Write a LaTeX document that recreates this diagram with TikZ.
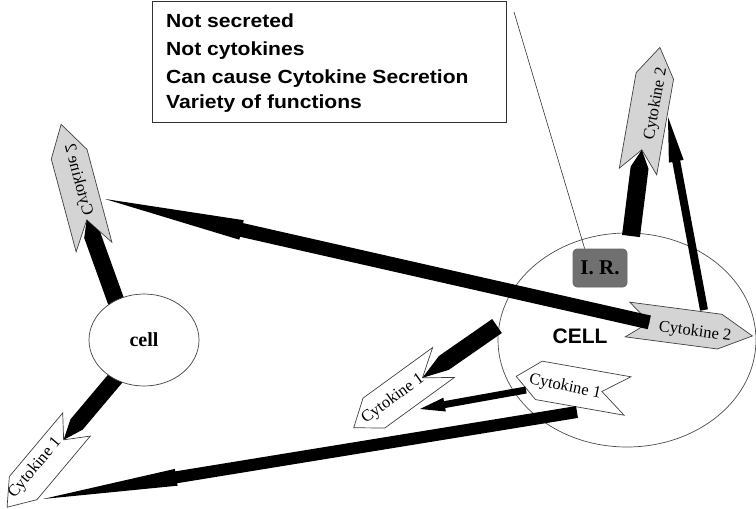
\documentclass[tikz,border=0pt]{standalone}
\usepackage{fontspec}
\setmainfont{Liberation Serif}
\newfontfamily\boxsans{Liberation Sans}
\usetikzlibrary{calc,shapes.geometric}
\tikzset{
  cytogray/.style={fill=black!17, draw=black!75, line width=0.7pt},
  cytowhite/.style={fill=white, draw=black!75, line width=0.7pt},
  cytolabel/.style={font=\fontsize{16.5}{16.5}\selectfont, inner sep=0pt},
  boxline/.style={font=\boxsans\bfseries\fontsize{19}{19}\selectfont, anchor=base west, inner sep=0pt, xscale=1.11},
  arrowfill/.style={fill=black},
  cellshape/.style={ellipse, draw=black!70, fill=white, line width=0.7pt, inner sep=0pt}
}
\newcommand{\cytoshape}[8]{%
  \begin{scope}[shift={#2}, rotate=#3]
    \draw[#8] (0,#5) -- ({#4-#6},#5) -- (#4,0) -- ({#4-#6},-#5) -- (0,-#5) -- (#7,0) -- cycle;
    \coordinate (#1-notch) at (#7,0);
  \end{scope}}
\newcommand{\blockarr}[5]{%
  \path ($(#2)!#5!(#1)$) coordinate (hb);
  \fill[arrowfill] ($(#1)!#3!90:(#2)$) -- ($(hb)!#3!90:(#2)$) -- ($(hb)!#4!90:(#2)$) -- (#2)
     -- ($(hb)!#4!-90:(#2)$) -- ($(hb)!#3!-90:(#2)$) -- ($(#1)!#3!-90:(#2)$) -- cycle;}
\begin{document}
\begin{tikzpicture}[x=1pt,y=-1pt]
\useasboundingbox (0,0) rectangle (756,509);

% note box
\node[draw=black!80, line width=1pt, minimum width=354, minimum height=121, inner sep=0, anchor=north west] (notes) at (152,1) {};
\node[boxline] (l1) at (166,27) {Not secreted};
\node[boxline] (l2) at (166,55) {Not cytokines};
\node[boxline] (l3) at (166,83) {Can cause Cytokine Secretion};
\node[boxline] (l4) at (166,108) {Variety of functions};

% big cell
\node[cellshape, minimum width=258, minimum height=214] (CELL) at (627,340) {};
\node[font=\boxsans\bfseries\fontsize{21}{21}\selectfont, inner sep=0] (CELLlabel) at (580,336) {CELL};
\node[draw=black!60, fill=black!56, rounded corners=4pt, minimum width=54, minimum height=38, inner sep=0,
      line width=0.7pt, font=\bfseries\fontsize{21}{21}\selectfont] (ir) at (600,268) {I. R.};
\coordinate (leadend) at (514,12);
\draw[black!80, line width=0.6pt] (leadend) -- ([xshift=12]ir.north west);

% cytokine chevrons
\cytoshape{c2l}{(94,247)}{105}{127}{18.5}{31}{28}{cytogray}
\cytoshape{c2r}{(638,171.5)}{80}{126}{19}{29}{22}{cytogray}
\cytoshape{c2m}{(627.5,319.5)}{-7.5}{126}{17.5}{33}{22}{cytogray}
\cytoshape{c1c}{(627.5,396)}{170}{113}{19.5}{23}{26}{cytowhite}
\cytoshape{c1m}{(443.5,362.5)}{216}{111}{18.5}{25}{26}{cytowhite}
\cytoshape{c1bl}{(76.5,424.5)}{230}{108}{18}{25}{20}{cytowhite}

\node[cytolabel, rotate=105, yscale=-1] (c2l-label) at (78,180) {Cytokine 2};
\node[cytolabel, rotate=80] (c2r-label) at (656,104) {Cytokine 2};
\node[cytolabel, rotate=-7.5] (c2m-label) at (695,332) {Cytokine 2};
\node[cytolabel, rotate=-12] (c1c-label) at (565,387) {Cytokine 1};
\node[cytolabel, rotate=36] (c1m-label) at (393,399) {Cytokine 1};
\node[cytolabel, rotate=50] (c1bl-label) at (35,468) {Cytokine 1};

% arrows
\coordinate (cellTopBase) at (121,315);
\coordinate (cellBotBase) at (125,367);
\coordinate (CELLwest) at (497,326);
\coordinate (CELLtop) at (631,236);
\coordinate (c2m-top) at (704,310);
\coordinate (c2r-side) at (668,117);
\coordinate (c2l-side) at (105,199);
\coordinate (c1c-bottom) at (577,412);
\coordinate (c1bl-side) at (43,499);
\coordinate (c1c-nose) at (526,390);
\coordinate (c1m-side) at (420,409);

\blockarr{cellTopBase}{c2l-notch}{8.5pt}{8.5pt}{16pt}
\blockarr{cellBotBase}{c1bl-notch}{8pt}{8pt}{20pt}
\blockarr{CELLwest}{c1m-notch}{8.5pt}{8.5pt}{26pt}
\blockarr{CELLtop}{c2r-notch}{9pt}{9pt}{18pt}
\blockarr{c2m-top}{c2r-side}{4pt}{7.5pt}{45pt}
\blockarr{c2m-notch}{c2l-side}{7pt}{10pt}{140pt}
\blockarr{c1c-bottom}{c1bl-side}{6pt}{8.5pt}{135pt}
\blockarr{c1c-nose}{c1m-side}{3.5pt}{7pt}{25pt}

% small cell
\node[cellshape, draw=black!75, minimum width=110, minimum height=92, font=\bfseries\fontsize{20}{20}\selectfont] (cell) at (144,340) {cell};
\end{tikzpicture}
\end{document}
